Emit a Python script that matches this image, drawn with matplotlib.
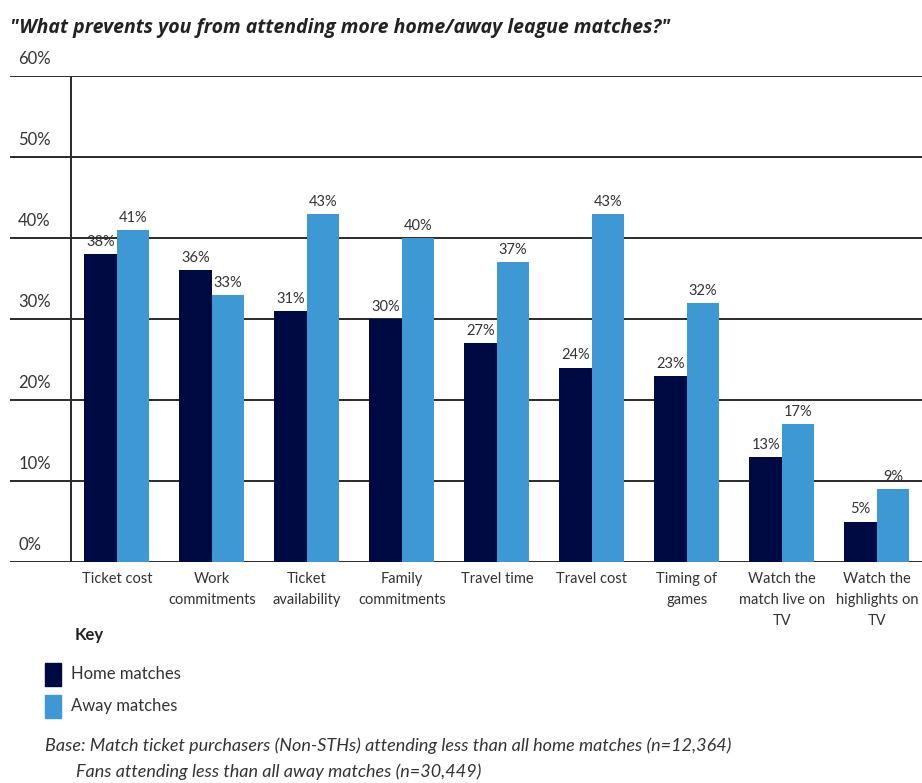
import numpy as np
import matplotlib.pyplot as plt

categories = ["Ticket cost", "Work\ncommitments", "Ticket\navailability", "Family\ncommitments",
              "Travel time", "Travel cost", "Timing of\ngames", "Watch the\nmatch live on\nTV",
              "Watch the\nhighlights on\nTV"]
home = [38, 36, 31, 30, 27, 24, 23, 13, 5]
away = [41, 33, 43, 40, 37, 43, 32, 17, 9]
y_ticks = [0, 10, 20, 30, 40, 50, 60]

HOME_COLOR = "#000a42"
AWAY_COLOR = "#3d98d4"
TEXT_COLOR = "#333333"

W, H = 922, 783
fig = plt.figure(figsize=(W / 100, H / 100), dpi=100)
plt.rcParams["font.family"] = ["Lato", "DejaVu Sans"]

# axes spans pixel x 10..922, y 76..562
ax = fig.add_axes([10 / W, 1 - 562 / H, 912 / W, (562 - 76) / H])
ax.set_xlim(-1.126, 8.474)
ax.set_ylim(0, 60)
ax.axis("off")

x = np.arange(len(categories))
bw = 0.342

for t in y_ticks:
    ax.axhline(t, color="#2a2a2a", lw=1.4, zorder=1)
    ax.text(-1.04, t + 2.1, f"{t}%", ha="left", va="center", fontsize=12, color=TEXT_COLOR)
ax.plot([-0.484, -0.484], [0, 60], color="#2a2a2a", lw=1.4, zorder=1)

ax.bar(x - bw / 2, home, width=bw, color=HOME_COLOR, zorder=2)
ax.bar(x + bw / 2, away, width=bw, color=AWAY_COLOR, zorder=2)

for i in range(len(categories)):
    ax.text(x[i] - bw / 2, home[i] + 1.5, f"{home[i]}%", ha="center", va="center",
            fontsize=10.5, color=TEXT_COLOR, zorder=3)
    ax.text(x[i] + bw / 2, away[i] + 1.5, f"{away[i]}%", ha="center", va="center",
            fontsize=10.5, color=TEXT_COLOR, zorder=3)
    ax.text(x[i], -1.2, categories[i], ha="center", va="top", fontsize=10.5,
            color=TEXT_COLOR, linespacing=1.65)

fig.text(10 / W, 1 - 28 / H, "\"What prevents you from attending more home/away league matches?\"",
         ha="left", va="center", fontsize=14, fontweight="bold", fontstyle="italic",
         color="#222222", family=["Open Sans", "DejaVu Sans"])

# key
fig.text(75 / W, 1 - 635 / H, "Key", ha="left", va="center", fontsize=12,
         fontweight="bold", color="#222222")
fig.patches.append(plt.Rectangle((45 / W, 1 - 686 / H), 16 / W, 23 / H, color=HOME_COLOR,
                                 transform=fig.transFigure))
fig.patches.append(plt.Rectangle((45 / W, 1 - 718 / H), 16 / W, 23 / H, color=AWAY_COLOR,
                                 transform=fig.transFigure))
fig.text(71 / W, 1 - 674 / H, "Home matches", ha="left", va="center", fontsize=12, color=TEXT_COLOR)
fig.text(71 / W, 1 - 706 / H, "Away matches", ha="left", va="center", fontsize=12, color=TEXT_COLOR)

fig.text(45 / W, 1 - 746 / H,
         "Base: Match ticket purchasers (Non-STHs) attending less than all home matches (n=12,364)",
         ha="left", va="center", fontsize=13, fontstyle="italic", color=TEXT_COLOR)
fig.text(76 / W, 1 - 772 / H, "Fans attending less than all away matches (n=30,449)",
         ha="left", va="center", fontsize=13, fontstyle="italic", color=TEXT_COLOR)

fig.savefig("out.png", dpi=100)
